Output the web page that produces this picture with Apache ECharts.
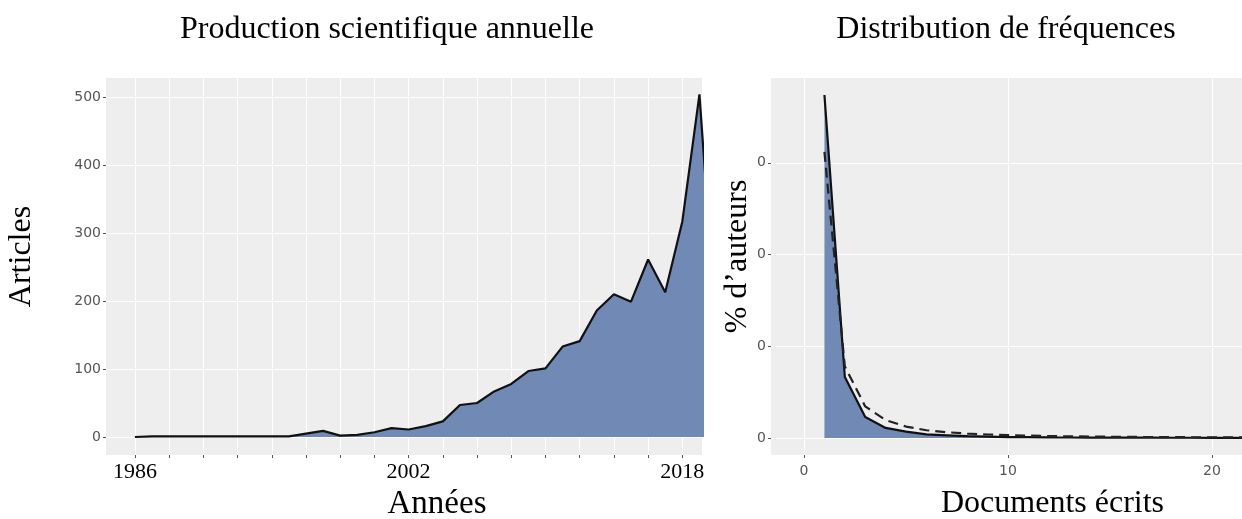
<!DOCTYPE html>
<html>
<head>
<meta charset="utf-8">
<script src="https://cdn.jsdelivr.net/npm/echarts@6/dist/echarts.min.js"></script>
<style>
  html, body { margin: 0; padding: 0; background: #fff; }
  #main { width: 1242px; height: 519px; }
</style>
</head>
<body>
<div id="main"></div>
<script>
// production annuelle
var years = [1986, 1987, 1988, 1989, 1990, 1991, 1992, 1993, 1994, 1995,
    1996, 1997, 1998, 1999, 2000, 2001, 2002, 2003, 2004, 2005,
    2006, 2007, 2008, 2009, 2010, 2011, 2012, 2013, 2014, 2015,
    2016, 2017, 2018, 2019, 2020];
var articles = [0, 1, 1, 1, 1, 1, 1, 1, 1, 1,
    5, 9, 2, 3, 7, 13, 11, 16, 23, 47,
    50, 67, 78, 97, 101, 133, 141, 186, 210, 199,
    261, 213, 317, 504, 150];
var yearTicks = [1986, 1988, 1990, 1992, 1994, 1996, 1998, 2000, 2002,
    2004, 2006, 2008, 2010, 2012, 2014, 2016, 2018];
var yearLabels = [1986, 2002, 2018];
var articleTicks = [0, 100, 200, 300, 400, 500];

// distribution (loi de Lotka)
var docs = [1, 2, 3, 4, 5, 6, 7, 8, 9, 10, 11, 12, 13, 14, 15, 16, 17, 18, 19, 20, 21, 22, 23];
var authorsObs = [0.748, 0.133, 0.046, 0.022, 0.014, 0.008, 0.006, 0.004, 0.003, 0.002,
    0.002, 0.0015, 0.0012, 0.001, 0.001, 0.0008, 0.0008, 0.0006, 0.0006, 0.0005,
    0.0005, 0.0004, 0.0004];
var authorsLotka = [0.624, 0.156, 0.069, 0.039, 0.025, 0.017, 0.0127, 0.0098, 0.0077, 0.0062,
    0.0052, 0.0043, 0.0037, 0.0032, 0.0028, 0.0024, 0.0022, 0.0019, 0.0017, 0.0016,
    0.0014, 0.0013, 0.0012];
var docTicks = [0, 10, 20];
var pctTicks = [0, 0.2, 0.4, 0.6];

function pairs(xs, ys) {
    var out = [];
    for (var i = 0; i < xs.length; i++) {
        out.push([xs[i], ys[i]]);
    }
    return out;
}

var serif = 'Liberation Serif, Times New Roman, serif';
var sans = 'DejaVu Sans, sans-serif';
var panelBg = '#EEEEEE';
var fill = '#7189B5';

var myChart = echarts.init(document.getElementById('main'));

var option = {
    animation: false,
    backgroundColor: '#fff',
    title: [{
        text: 'Production scientifique annuelle',
        left: 382, top: 9, textAlign: 'center',
        textStyle: { fontFamily: serif, fontSize: 32, fontWeight: 'normal', color: '#000' }
    }, {
        text: 'Distribution de fréquences',
        left: 1001, top: 9, textAlign: 'center',
        textStyle: { fontFamily: serif, fontSize: 32, fontWeight: 'normal', color: '#000' }
    }],
    grid: [
        { left: 106, right: 540, top: 78, bottom: 64, outerBoundsMode: 'none', show: true, backgroundColor: panelBg, borderWidth: 0 },
        { left: 771, right: 0, top: 78, bottom: 64, outerBoundsMode: 'none', show: true, backgroundColor: panelBg, borderWidth: 0 }
    ],
    xAxis: [{
        type: 'value', gridIndex: 0,
        min: 1984.31, max: 2019.15,
        name: 'Années', nameLocation: 'middle', nameGap: 33,
        nameTextStyle: { fontFamily: serif, fontSize: 33, color: '#000', padding: [0, 0, 0, 66] },
        axisLine: { show: false, onZero: false },
        axisTick: { show: true, length: 3, customValues: yearTicks, lineStyle: { color: '#555' } },
        axisLabel: {
            customValues: yearLabels, margin: 6,
            fontFamily: serif, fontSize: 22, color: '#000',
            formatter: function(v) { return String(v); }
        },
        splitLine: { show: true, lineStyle: { color: '#fff', width: 1 } }
    }, {
        type: 'value', gridIndex: 1,
        min: -1.62, max: 21.47,
        name: 'Documents écrits', nameLocation: 'middle', nameGap: 33,
        nameTextStyle: { fontFamily: serif, fontSize: 32, color: '#000', padding: [0, 0, 0, 92] },
        axisLine: { show: false, onZero: false },
        axisTick: { show: true, length: 3, customValues: docTicks, lineStyle: { color: '#555' } },
        axisLabel: {
            customValues: docTicks, margin: 9,
            fontFamily: sans, fontSize: 14, color: '#555'
        },
        splitLine: { show: true, lineStyle: { color: '#fff', width: 1 } }
    }],
    yAxis: [{
        type: 'value', gridIndex: 0,
        min: -26.5, max: 528,
        name: 'Articles', nameLocation: 'middle', nameGap: 68,
        nameTextStyle: { fontFamily: serif, fontSize: 32, color: '#000', padding: [0, 0, 0, 20] },
        axisLine: { show: false, onZero: false },
        axisTick: { show: true, length: 3, customValues: articleTicks, lineStyle: { color: '#555' } },
        axisLabel: {
            customValues: articleTicks, margin: 5,
            fontFamily: sans, fontSize: 14, color: '#555'
        },
        splitLine: { show: true, lineStyle: { color: '#fff', width: 1.2 } }
    }, {
        type: 'value', gridIndex: 1,
        min: -0.037, max: 0.785,
        name: '% d’auteurs', nameLocation: 'middle', nameGap: 16,
        nameTextStyle: { fontFamily: serif, fontSize: 32, color: '#000', padding: [0, 0, 0, 20] },
        axisLine: { show: false, onZero: false },
        axisTick: { show: true, length: 3, customValues: pctTicks, lineStyle: { color: '#555' } },
        axisLabel: {
            customValues: pctTicks, margin: 5,
            fontFamily: sans, fontSize: 14, color: '#555',
            formatter: function() { return '0'; }
        },
        splitLine: { show: true, lineStyle: { color: '#fff', width: 1.2 } }
    }],
    series: [{
        name: 'Articles',
        type: 'line', xAxisIndex: 0, yAxisIndex: 0,
        data: pairs(years, articles),
        showSymbol: false, clip: true,
        lineStyle: { color: '#111', width: 2.2 },
        areaStyle: { color: fill, opacity: 1, origin: 0 }
    }, {
        name: 'Observé',
        type: 'line', xAxisIndex: 1, yAxisIndex: 1,
        data: pairs(docs, authorsObs),
        showSymbol: false, clip: true,
        lineStyle: { color: '#111', width: 2.2 },
        areaStyle: { color: fill, opacity: 1, origin: 0 }
    }, {
        name: 'Lotka',
        type: 'line', xAxisIndex: 1, yAxisIndex: 1,
        data: pairs(docs, authorsLotka),
        showSymbol: false, clip: true,
        lineStyle: { color: '#222', width: 2.2, type: [10, 6] }
    }]
};

myChart.setOption(option);
</script>
</body>
</html>
